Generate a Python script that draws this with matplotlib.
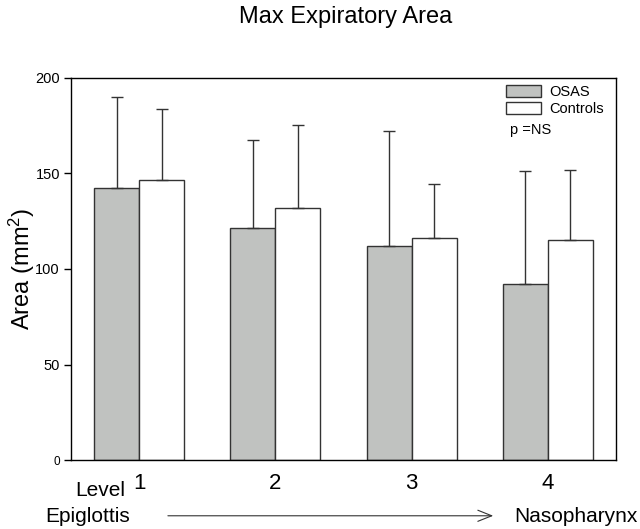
import matplotlib
matplotlib.use("Agg")
import matplotlib.pyplot as plt
import numpy as np

plt.rcParams['font.family'] = ['Liberation Sans', 'DejaVu Sans']
plt.rcParams['mathtext.fontset'] = 'custom'
plt.rcParams['mathtext.rm'] = 'Liberation Sans'
plt.rcParams['mathtext.it'] = 'Liberation Sans'

levels = ["1", "2", "3", "4"]
osas = [142.5, 121.5, 112.0, 92.0]
osas_sd = [47.5, 46.0, 60.0, 59.5]
controls = [146.5, 132.0, 116.0, 115.0]
controls_sd = [37.5, 43.5, 28.5, 37.0]

x = np.arange(1, len(levels) + 1)
w = 0.33

fig = plt.figure(figsize=(6.4, 5.29), dpi=100)
ax = fig.add_axes([0.111, 0.1304, 0.8515, 0.7222])

ax.bar(x - w/2, osas, w, color='#c0c2c0', edgecolor='#333333', linewidth=1, label='OSAS')
ax.bar(x + w/2, controls, w, color='white', edgecolor='#333333', linewidth=1, label='Controls')
ax.errorbar(x - w/2, osas, yerr=[np.zeros(4), osas_sd], fmt='none', ecolor='#333333',
            elinewidth=1, capsize=4, capthick=1)
ax.errorbar(x + w/2, controls, yerr=[np.zeros(4), controls_sd], fmt='none', ecolor='#333333',
            elinewidth=1, capsize=4, capthick=1)

ax.set_xlim(0.5, 4.5)
ax.set_ylim(0, 200)
ax.set_yticks([0, 50, 100, 150, 200])
ax.set_yticklabels(["0", "50", "100", "150", "200"], fontsize=10.5)
ax.get_yticklabels()[0].set_fontsize(8.5)
ax.tick_params(axis='y', length=5, width=1, pad=3)
ax.set_xticks(x)
ax.set_xticklabels(levels, fontsize=16)
ax.tick_params(axis='x', length=0, pad=9)
ax.set_ylabel("Area (mm$\\mathrm{^2}$)", fontsize=17)
ax.yaxis.set_label_coords(-0.062, 0.5)
for s in ax.spines.values():
    s.set_linewidth(1)

leg = ax.legend(loc='upper right', bbox_to_anchor=(0.997, 1.008), frameon=False, fontsize=10.5,
                handlelength=2.4, handleheight=0.8, handletextpad=0.6, labelspacing=0.2,
                borderaxespad=0.3)
ax.text(0.805, 0.863, "p =NS", transform=ax.transAxes, fontsize=10.5, ha='left', va='center')

fig.text(0.54, 0.967, "Max Expiratory Area", fontsize=17, ha='center', va='center')
fig.text(0.156, 0.073, "Level", fontsize=15, ha='center', va='center')
fig.text(0.07, 0.023, "Epiglottis", fontsize=15, ha='left', va='center')
fig.text(0.997, 0.023, "Nasopharynx", fontsize=15, ha='right', va='center')
fig.add_artist(matplotlib.patches.FancyArrowPatch((0.258, 0.025), (0.775, 0.025),
               transform=fig.transFigure, arrowstyle='->,head_length=10,head_width=4',
               color='#333333', linewidth=0.8))

fig.savefig("out.png", dpi=100)
